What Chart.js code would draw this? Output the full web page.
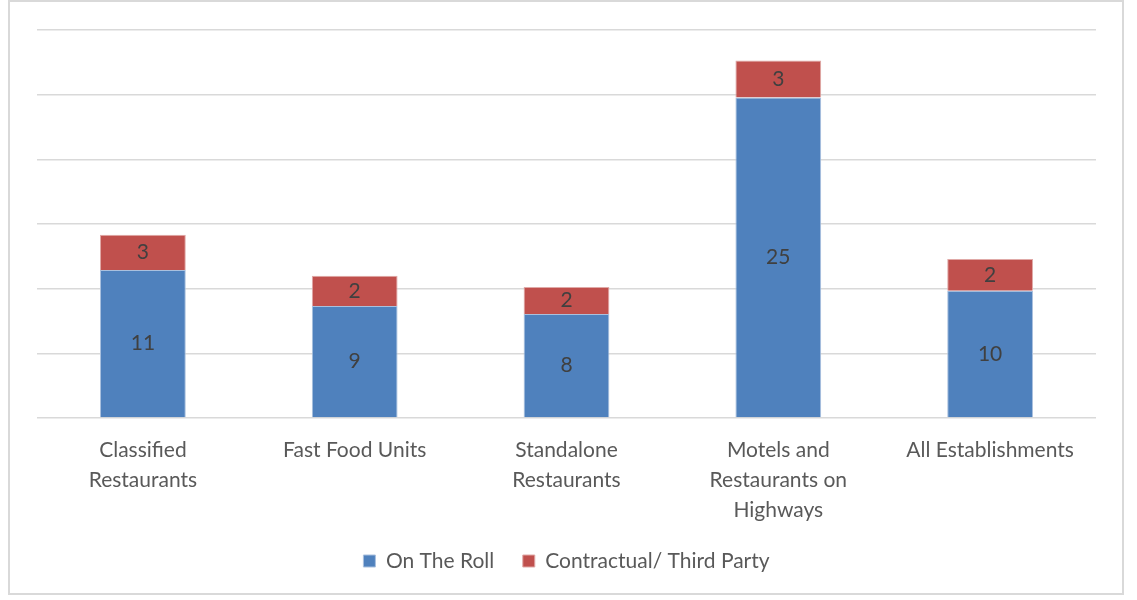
<!DOCTYPE html>
<html>
<head>
<meta charset="utf-8">
<script src="https://cdn.jsdelivr.net/npm/chart.js@4.4.1/dist/chart.umd.min.js"></script>
<style>
  html, body { margin: 0; padding: 0; background: #fff; }
  #frame {
    position: absolute; left: 8px; top: 0px; width: 1116px; height: 595px;
    border: 2px solid #d9d9d9; box-sizing: border-box;
  }
  #wrap { position: absolute; left: 0; top: 0; width: 1137px; height: 600px; }
</style>
</head>
<body>
<div id="frame"></div>
<div id="wrap"><canvas id="chart"></canvas></div>
<script>
// categories and series
const categories = [
  ['Classified', 'Restaurants'],
  ['Fast Food Units'],
  ['Standalone', 'Restaurants'],
  ['Motels and', 'Restaurants on', 'Highways'],
  ['All Establishments']
];
const onTheRoll = [11.44, 8.66, 8.04, 24.78, 9.84];
const contractual = [2.73, 2.34, 2.09, 2.86, 2.45];
const yTicks = [0, 5, 10, 15, 20, 25, 30];

const FONT = 'Lato, "Open Sans", sans-serif';
const FS = 21;

// 在柱子中间写数值
const barLabels = {
  id: 'barLabels',
  afterDatasetsDraw(chart) {
    const ctx = chart.ctx;
    ctx.save();
    ctx.font = FS + 'px ' + FONT;
    ctx.fillStyle = '#404040';
    ctx.textAlign = 'center';
    ctx.textBaseline = 'middle';
    chart.data.datasets.forEach((ds, i) => {
      chart.getDatasetMeta(i).data.forEach((bar, j) => {
        const mid = (bar.y + bar.base) / 2;
        ctx.fillText(String(Math.round(ds.data[j])), bar.x, mid);
      });
    });
    ctx.restore();
  }
};

new Chart(document.getElementById('chart'), {
  type: 'bar',
  data: {
    labels: categories,
    datasets: [
      {
        label: 'On The Roll',
        data: onTheRoll,
        backgroundColor: '#4f81bd',
        borderColor: '#a9c0de',
        borderWidth: 1,
        categoryPercentage: 0.81,
        barPercentage: 0.5
      },
      {
        label: 'Contractual/ Third Party',
        data: contractual,
        backgroundColor: '#c0504d',
        borderColor: '#e0a9a7',
        borderWidth: 1,
        categoryPercentage: 0.81,
        barPercentage: 0.5
      }
    ]
  },
  options: {
    responsive: true,
    maintainAspectRatio: false,
    animation: false,
    layout: { padding: { left: 37, right: 41, top: 30, bottom: 18.5 } },
    scales: {
      x: {
        stacked: true,
        grid: { display: false },
        border: { display: false },
        afterFit(scale) { scale.height = 104; },
        ticks: {
          color: '#595959',
          font: { family: FONT, size: FS, lineHeight: 30 / FS },
          padding: 9,
          maxRotation: 0,
          autoSkip: false
        }
      },
      y: {
        stacked: true,
        min: 0,
        max: 30,
        afterFit(scale) { scale.width = 0; },
        afterBuildTicks(scale) { scale.ticks = yTicks.map(v => ({ value: v })); },
        ticks: { display: false },
        grid: { color: '#d9d9d9', lineWidth: 1.5, drawTicks: false },
        border: { display: false }
      }
    },
    plugins: {
      legend: {
        position: 'bottom',
        labels: {
          color: '#595959',
          font: { family: FONT, size: FS },
          boxWidth: 12,
          boxHeight: 12,
          padding: 28.5
        }
      },
      tooltip: { enabled: false }
    }
  },
  plugins: [barLabels]
});
</script>
</body>
</html>
